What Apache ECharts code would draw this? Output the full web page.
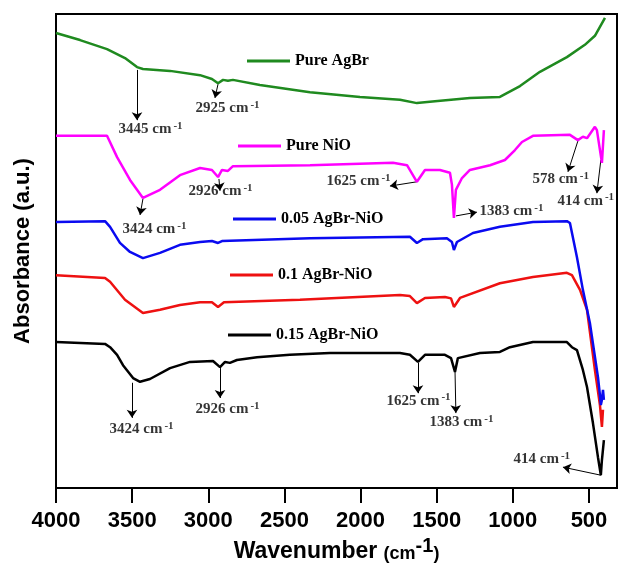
<!DOCTYPE html>
<html>
<head>
<meta charset="utf-8">
<script src="https://cdn.jsdelivr.net/npm/echarts@6/dist/echarts.min.js"></script>
<style>html,body{margin:0;padding:0;background:#fff}#c{width:619px;height:564px}</style>
</head>
<body>
<div id="c"></div>
<script>
// ---------- DATA (wavenumber cm^-1, absorbance in arbitrary offset units) ----------
const seriesNames = ['Pure AgBr', 'Pure NiO', '0.05 AgBr-NiO', '0.1 AgBr-NiO', '0.15 AgBr-NiO'];
const seriesColors = ['#1f8a1f', '#ff00ff', '#0a0af0', '#ee1111', '#000000'];
const xTicks = [4000, 3500, 3000, 2500, 2000, 1500, 1000, 500];

const pureAgBr = [[4000,96.0],[3842,94.5],[3665,92.6],[3547,90.7],[3468,88.8],[3429,88.4],[3251,88.0],[3054,87.1],[2976,86.3],[2936,85.4],[2903,86.1],[2871,85.9],[2838,86.1],[2661,85.0],[2332,83.5],[2004,82.5],[1741,81.9],[1630,81.2],[1511,81.6],[1282,82.3],[1085,82.5],[953,84.8],[822,87.8],[645,90.9],[527,93.5],[461,95.4],[395,99.2]];

const pureNiO = [[4000,74.3],[3665,74.3],[3599,69.8],[3514,65.0],[3429,61.2],[3317,62.9],[3186,66.0],[3054,67.5],[2976,67.1],[2936,65.6],[2910,67.1],[2871,66.9],[2838,67.9],[2332,68.1],[1787,68.6],[1695,68.1],[1630,64.6],[1577,67.1],[1479,67.1],[1413,66.5],[1400,64.0],[1387,57.0],[1374,62.9],[1334,65.4],[1282,67.1],[1150,68.1],[1052,69.2],[986,71.3],[940,73.0],[868,74.3],[625,74.5],[573,73.4],[540,74.1],[513,73.8],[461,76.2],[448,75.5],[415,68.6],[402,75.5]];

const agbr005 = [[4000,56.1],[3678,56.3],[3645,55.1],[3580,51.7],[3514,49.8],[3429,48.5],[3317,49.6],[3186,51.3],[3054,51.9],[2976,52.1],[2936,51.7],[2910,52.1],[2332,52.7],[1676,53.0],[1630,51.7],[1590,52.5],[1433,52.7],[1400,51.9],[1387,50.2],[1367,51.9],[1262,53.8],[1085,55.1],[868,56.1],[645,56.3],[625,55.9],[579,48.7],[540,41.8],[494,34.8],[441,23.4],[428,19.6],[422,17.5],[415,18.6],[408,20.7],[402,18.6]];

const agbr01 = [[4000,44.9],[3678,44.3],[3645,43.5],[3547,39.7],[3429,36.9],[3317,37.6],[3186,38.6],[3054,39.2],[2976,39.2],[2936,38.2],[2897,39.2],[2398,39.7],[1741,40.7],[1676,40.5],[1630,39.0],[1577,40.1],[1446,40.3],[1406,40.0],[1387,38.2],[1347,40.1],[1085,43.2],[868,44.5],[645,45.4],[612,44.9],[559,41.8],[513,37.6],[461,24.9],[428,17.5],[415,12.9],[408,16.5]];

const agbr015 = [[4000,30.8],[3678,30.4],[3645,29.7],[3599,28.1],[3560,25.9],[3494,23.2],[3448,22.4],[3383,23.0],[3251,25.3],[3120,26.6],[2969,26.8],[2923,25.5],[2890,26.6],[2858,26.4],[2812,27.0],[2680,27.6],[2464,28.1],[2201,28.5],[1741,28.5],[1676,28.1],[1623,26.6],[1577,28.1],[1446,28.1],[1406,27.4],[1380,24.5],[1361,27.4],[1216,28.5],[1085,28.7],[1019,29.7],[868,30.8],[645,30.8],[612,29.7],[579,29.1],[540,24.9],[513,21.3],[474,13.7],[441,6.5],[422,2.7],[415,5.9],[402,10.1]];

// annotation labels: [wavenumber at text start, value at text centre, text]
const peakLabels = [
  [3593,75.1,'3445 cm'],[3087,79.7,'2925 cm'],
  [3133,62.2,'2926 cm'],[3567,54.0,'3424 cm'],[2227,64.3,'1625 cm'],[1223,57.8,'1383 cm'],[875,64.6,'578 cm'],[710,60.1,'414 cm'],
  [3652,11.8,'3424 cm'],[3087,16.2,'2926 cm'],[1833,17.9,'1625 cm'],[1551,13.3,'1383 cm'],[999,5.5,'414 cm']
];
// arrows: [fromWn, fromVal, toWn, toVal]
const peakArrows = [
  [3468,88.2,3468,77.6],[2936,85.2,2956,82.3],
  [2930,65.2,2923,62.7],[3429,61.0,3448,57.6],[1630,64.6,1807,63.7],[1374,57.4,1236,58.2],[573,73.2,638,66.7],[422,69.2,448,62.2],
  [3501,22.2,3501,14.8],[2923,25.3,2923,19.0],[1623,26.4,1623,20.0],[1380,25.1,1374,15.8],[422,2.7,671,4.4]
];

// legend placement [left, top]
const legendPos = [[247,51],[238,136],[233,209],[230,265],[228,325]];

// ---------- CHART ----------
const chart = echarts.init(document.getElementById('c'), null, {renderer:'canvas'});
const dataSets = [pureAgBr, pureNiO, agbr005, agbr01, agbr015];
const serif = "'Times New Roman','Liberation Serif',serif";
const sans = "Arial,'Liberation Sans',sans-serif";

const lineSeries = dataSets.map((d, i) => ({
  name: seriesNames[i], type: 'line', data: d, showSymbol: false, symbol: 'none',
  lineStyle: {color: seriesColors[i], width: 2.5}, itemStyle: {color: seriesColors[i]},
  z: 10 - i, clip: true, silent: true
})).reverse();

const annoSeries = {
  type: 'scatter', name: 'anno', symbolSize: 1, itemStyle: {color: 'rgba(0,0,0,0)'}, silent: true, z: 20, clip: false,
  data: peakLabels,
  label: {
    show: true, position: 'right', distance: 0, offset: [0, -3],
    formatter: p => '{n|' + p.data[2] + '}{s|-1}',
    rich: {
      n: {fontFamily: serif, fontWeight: 'bold', fontSize: 15, lineHeight: 16, color: '#000', verticalAlign: 'bottom'},
      s: {fontFamily: serif, fontWeight: 'bold', fontSize: 11, lineHeight: 11, color: '#000', padding: [0,0,11,2], verticalAlign: 'top'}
    }
  },
  markLine: {
    silent: true, symbol: ['none', 'arrow'], symbolSize: 8, animation: false,
    label: {show: false},
    lineStyle: {color: '#000', width: 1, type: 'solid'},
    data: peakArrows.map(a => [{coord: [a[0], a[1]]}, {coord: [a[2], a[3]]}])
  }
};

const legends = seriesNames.map((n, i) => ({
  data: [n], left: legendPos[i][0], top: legendPos[i][1], padding: 0, itemGap: 0,
  itemWidth: 43, itemHeight: 3, icon: 'rect', selectedMode: false,
  textStyle: {fontFamily: serif, fontWeight: 'bold', fontSize: 16, color: '#000', lineHeight: 20}
}));

chart.setOption({
  animation: false,
  backgroundColor: '#fff',
  grid: {left: 56, right: 2, top: 14, bottom: 76, show: true, borderColor: '#000', borderWidth: 2,
         backgroundColor: 'transparent', containLabel: false, outerBoundsMode: 'none'},
  legend: legends,
  xAxis: {
    type: 'value', inverse: true, min: 316, max: 4000,
    axisLine: {show: true, lineStyle: {color: '#000', width: 2}},
    axisTick: {show: true, customValues: xTicks, length: 15, lineStyle: {color: '#000', width: 2}},
    axisLabel: {customValues: xTicks, margin: 22, fontFamily: sans, fontWeight: 'bold', fontSize: 22, color: '#000',
                formatter: v => String(v)},
    splitLine: {show: false},
    name: '{a|Wavenumber }{b|(cm}{c|-1}{b|)}', nameLocation: 'middle', nameGap: 46,
    nameTextStyle: {
      rich: {
        a: {fontFamily: sans, fontWeight: 'bold', fontSize: 23, color: '#000', lineHeight: 26, verticalAlign: 'bottom'},
        b: {fontFamily: sans, fontWeight: 'bold', fontSize: 18, color: '#000', lineHeight: 24, verticalAlign: 'bottom'},
        c: {fontFamily: sans, fontWeight: 'bold', fontSize: 20, color: '#000', lineHeight: 20, padding: [0,0,10,0], verticalAlign: 'top'}
      }
    }
  },
  yAxis: {
    type: 'value', min: 0, max: 100,
    axisLine: {show: true, lineStyle: {color: '#000', width: 2}},
    axisTick: {show: false}, axisLabel: {show: false}, splitLine: {show: false},
    name: 'Absorbance (a.u.)', nameLocation: 'middle', nameGap: 22,
    nameTextStyle: {fontFamily: sans, fontWeight: 'bold', fontSize: 22, color: '#000'}
  },
  series: [...lineSeries, annoSeries]
});
</script>
</body>
</html>
